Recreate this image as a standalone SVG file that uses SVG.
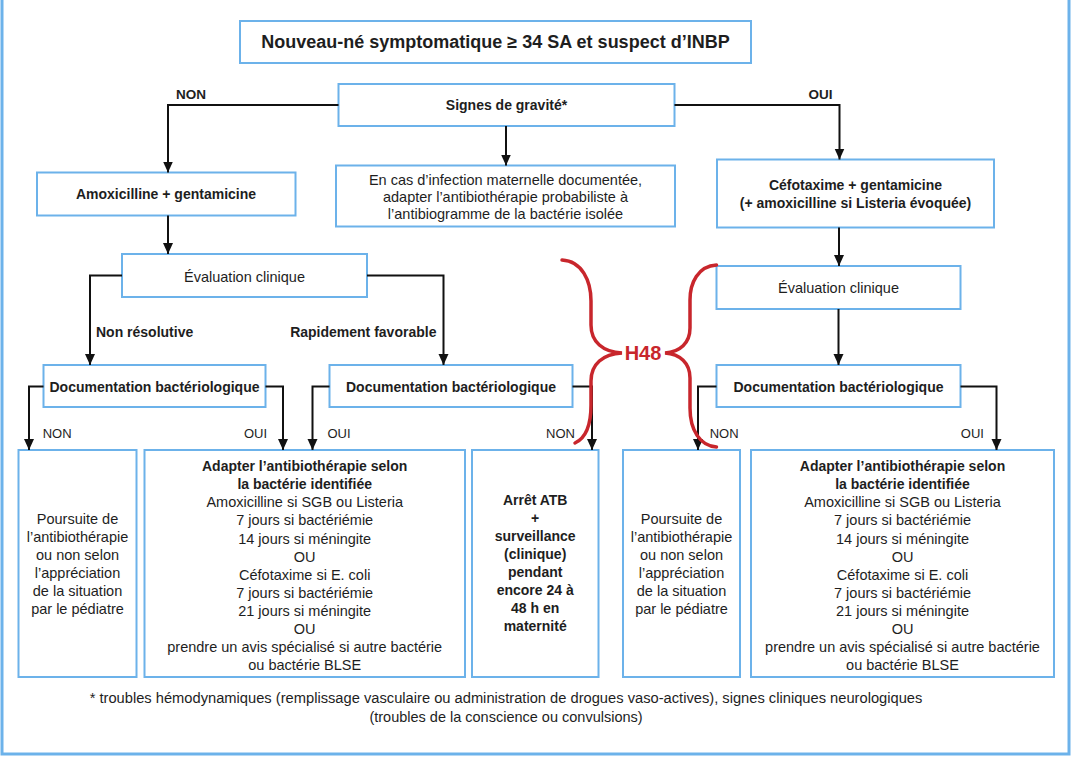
<svg xmlns="http://www.w3.org/2000/svg" width="1072" height="772" viewBox="0 0 1072 772">
<defs>
<marker id="ah" markerUnits="userSpaceOnUse" markerWidth="12" markerHeight="12" viewBox="0 0 12 12" refX="11" refY="6" orient="auto">
<path d="M0,1 L11,6 L0,11 z" fill="#111"/>
</marker>
<style>
.box{fill:#fff;stroke:#6cb2ea;stroke-width:2}
.frame{fill:none;stroke:#6cb2ea;stroke-width:3}
.c{fill:none;stroke:#111;stroke-width:2;marker-end:url(#ah)}
text{font-family:"Liberation Sans",Arial,sans-serif;fill:#1e1e1e}
.b{font-weight:bold;font-size:14px}
.r{font-size:14.5px}
.m{text-anchor:middle}
.lab{font-size:13px}
.labb{font-size:13.5px;font-weight:bold}
.brace{fill:none;stroke:#c8262c;stroke-width:3.5;stroke-linecap:round}
</style>
</defs>
<rect width="1072" height="772" fill="#fff"/>
<rect class="frame" x="2" y="-5" width="1067" height="759"/>

<g id="title">
<rect class="box" x="240" y="21" width="511" height="42"/>
<text class="m" x="495.5" y="47.5" font-size="18" font-weight="bold">Nouveau-né symptomatique ≥ 34 SA et suspect d’INBP</text>
</g>

<g id="signes">
<rect class="box" x="338.5" y="84" width="336" height="42"/>
<text class="b m" x="506.5" y="110">Signes de gravité*</text>
</g>

<g id="amox">
<rect class="box" x="37" y="172.5" width="258.5" height="43"/>
<text class="b m" x="166" y="199">Amoxicilline + gentamicine</text>
</g>

<g id="info">
<rect class="box" x="336" y="165.5" width="339" height="61"/>
<text class="r m"><tspan x="505.5" y="184.5">En cas d’infection maternelle documentée,</tspan><tspan x="505.5" y="202">adapter l’antibiothérapie probabiliste à</tspan><tspan x="505.5" y="219">l’antibiogramme de la bactérie isolée</tspan></text>
</g>

<g id="cefo">
<rect class="box" x="717" y="159.5" width="277" height="68"/>
<text class="b m"><tspan x="855.5" y="189.5">Céfotaxime + gentamicine</tspan><tspan x="855.5" y="208">(+ amoxicilline si Listeria évoquée)</tspan></text>
</g>

<g id="eval-left">
<rect class="box" x="122" y="254" width="245" height="43"/>
<text class="r m" x="244.5" y="281.5">Évaluation clinique</text>
</g>

<g id="eval-right">
<rect class="box" x="716.5" y="266" width="244" height="43"/>
<text class="r m" x="838.5" y="293">Évaluation clinique</text>
</g>

<g id="doc-left">
<rect class="box" x="43.5" y="365" width="222" height="42"/>
<text class="b m" x="154.5" y="391.5">Documentation bactériologique</text>
</g>

<g id="doc-middle">
<rect class="box" x="329.5" y="365" width="243" height="42"/>
<text class="b m" x="451" y="391.5">Documentation bactériologique</text>
</g>

<g id="doc-right">
<rect class="box" x="716.5" y="365" width="244" height="42"/>
<text class="b m" x="838.5" y="391.5">Documentation bactériologique</text>
</g>

<g id="res-1">
<rect class="box" x="18.5" y="450" width="118" height="227"/>
<text class="r m"><tspan x="77.5" y="524">Poursuite de</tspan><tspan x="77.5" y="542">l’antibiothérapie</tspan><tspan x="77.5" y="560">ou non selon</tspan><tspan x="77.5" y="578">l’appréciation</tspan><tspan x="77.5" y="596">de la situation</tspan><tspan x="77.5" y="614">par le pédiatre</tspan></text>
</g>

<g id="res-2">
<rect class="box" x="144.5" y="450" width="320.5" height="227"/>
<text class="m"><tspan class="b" x="304.7" y="471">Adapter l’antibiothérapie selon</tspan><tspan class="b" x="304.7" y="489">la bactérie identifiée</tspan><tspan class="r" x="304.7" y="507">Amoxicilline si SGB ou Listeria</tspan><tspan class="r" x="304.7" y="525">7 jours si bactériémie</tspan><tspan class="r" x="304.7" y="543.5">14 jours si méningite</tspan><tspan class="r" x="304.7" y="561.5">OU</tspan><tspan class="r" x="304.7" y="579.5">Céfotaxime si E. coli</tspan><tspan class="r" x="304.7" y="597.5">7 jours si bactériémie</tspan><tspan class="r" x="304.7" y="616">21 jours si méningite</tspan><tspan class="r" x="304.7" y="634">OU</tspan><tspan class="r" x="304.7" y="652">prendre un avis spécialisé si autre bactérie</tspan><tspan class="r" x="304.7" y="670">ou bactérie BLSE</tspan></text>
</g>

<g id="res-3">
<rect class="box" x="472" y="450" width="126.5" height="227"/>
<text class="b m"><tspan x="535.2" y="504.5">Arrêt ATB</tspan><tspan x="535.2" y="522.5">+</tspan><tspan x="535.2" y="540.5">surveillance</tspan><tspan x="535.2" y="558.5">(clinique)</tspan><tspan x="535.2" y="576.5">pendant</tspan><tspan x="535.2" y="594.5">encore 24 à</tspan><tspan x="535.2" y="612.5">48 h en</tspan><tspan x="535.2" y="630.5">maternité</tspan></text>
</g>

<g id="res-4">
<rect class="box" x="623" y="450" width="117" height="227"/>
<text class="r m"><tspan x="681.5" y="524">Poursuite de</tspan><tspan x="681.5" y="542">l’antibiothérapie</tspan><tspan x="681.5" y="560">ou non selon</tspan><tspan x="681.5" y="578">l’appréciation</tspan><tspan x="681.5" y="596">de la situation</tspan><tspan x="681.5" y="614">par le pédiatre</tspan></text>
</g>

<g id="res-5">
<rect class="box" x="751" y="450" width="303" height="227"/>
<text class="m"><tspan class="b" x="902.5" y="471">Adapter l’antibiothérapie selon</tspan><tspan class="b" x="902.5" y="489">la bactérie identifiée</tspan><tspan class="r" x="902.5" y="507">Amoxicilline si SGB ou Listeria</tspan><tspan class="r" x="902.5" y="525">7 jours si bactériémie</tspan><tspan class="r" x="902.5" y="543.5">14 jours si méningite</tspan><tspan class="r" x="902.5" y="561.5">OU</tspan><tspan class="r" x="902.5" y="579.5">Céfotaxime si E. coli</tspan><tspan class="r" x="902.5" y="597.5">7 jours si bactériémie</tspan><tspan class="r" x="902.5" y="616">21 jours si méningite</tspan><tspan class="r" x="902.5" y="634">OU</tspan><tspan class="r" x="902.5" y="652">prendre un avis spécialisé si autre bactérie</tspan><tspan class="r" x="902.5" y="670">ou bactérie BLSE</tspan></text>
</g>

<g id="connectors">
<path class="c" d="M338.5,105 H168 V172.5"/>
<path class="c" d="M506,126 V165.5"/>
<path class="c" d="M674.5,105 H839.5 V159.5"/>
<path class="c" d="M168,215.5 V254"/>
<path class="c" d="M122,275.5 H90 V365"/>
<path class="c" d="M367,275.5 H443.5 V365"/>
<path class="c" d="M839,227.5 V266"/>
<path class="c" d="M838.5,309 V365"/>
<path class="c" d="M43.5,386.5 H29 V450"/>
<path class="c" d="M265.5,386.5 H283 V450"/>
<path class="c" d="M329.5,386.5 H312.5 V450"/>
<path class="c" d="M572.5,386.5 H592 V450"/>
<path class="c" d="M716.5,386.5 H698 V450"/>
<path class="c" d="M960.5,386.5 H996.5 V450"/>
<text class="labb m" x="191" y="98.5">NON</text>
<text class="labb m" x="820.5" y="98.5">OUI</text>
<text class="b" x="96" y="336.5">Non résolutive</text>
<text class="b m" x="363.3" y="336.5">Rapidement favorable</text>
<text class="lab" x="42.7" y="438">NON</text>
<text class="lab" x="267" y="438" text-anchor="end">OUI</text>
<text class="lab" x="327.4" y="438">OUI</text>
<text class="lab" x="575" y="438" text-anchor="end">NON</text>
<text class="lab" x="709.7" y="438">NON</text>
<text class="lab" x="960.8" y="438">OUI</text>
</g>

<g id="h48">
<path class="brace" d="M562,260 C582,261 591,281 591,301 L591,325 C591,342 603,352 622,353 C603,354 591,364 591,381 L591,405 C591,425 586,438 575,443"/>
<path class="brace" d="M716.5,265 C698,266 690,283 690,300 L690,328 C690,343 680,352 665,353 C680,354 690,363 690,378 L690,408 C690,430 700,446 716.5,447"/>
<text x="643" y="360" text-anchor="middle" font-size="20" font-weight="bold" style="fill:#c8262c">H48</text>
</g>

<g id="footnote">
<text class="m" x="506" y="703" font-size="14.7">* troubles hémodynamiques (remplissage vasculaire ou administration de drogues vaso-actives), signes cliniques neurologiques</text>
<text class="r m" x="506" y="721.5">(troubles de la conscience ou convulsions)</text>
</g>
</svg>
